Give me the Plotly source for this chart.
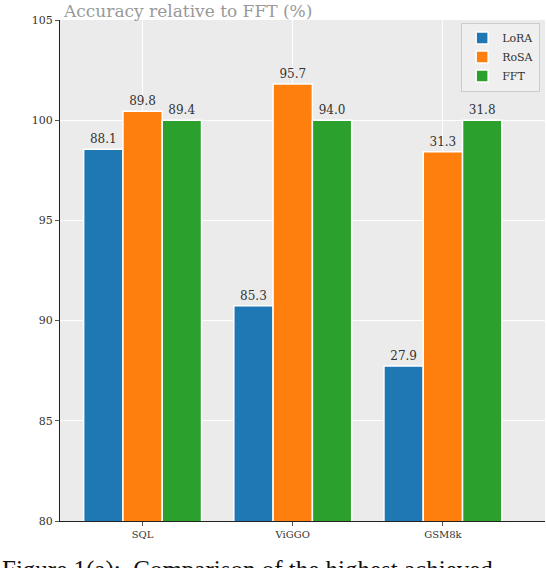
import plotly.graph_objects as go

# Data (absolute accuracies; bars show accuracy relative to FFT)
tasks = ["SQL", "ViGGO", "GSM8k"]
lora = [88.1, 85.3, 27.9]
rosa = [89.8, 95.7, 31.3]
fft = [89.4, 94.0, 31.8]

series = [("LoRA", lora, "#1f77b4"), ("RoSA", rosa, "#ff7f0e"), ("FFT", fft, "#2ca02c")]

serif = "DejaVu Serif"

fig = go.Figure()
for name, vals, color in series:
    rel = [v / f * 100 for v, f in zip(vals, fft)]
    fig.add_trace(go.Bar(
        x=tasks, y=rel, name=name,
        marker=dict(color=color, line=dict(color="white", width=1.5)),
        customdata=vals,
        texttemplate="%{customdata:.1f}", textposition="outside",
        textfont=dict(family=serif, size=12, color="#333333"),
        cliponaxis=False,
    ))

fig.update_layout(
    width=546, height=568,
    barmode="group", bargap=0.215, bargroupgap=0,
    paper_bgcolor="white", plot_bgcolor="#EBEBEB",
    margin=dict(l=60, r=1, t=20, b=47),
    font=dict(family=serif, size=11, color="#333333"),
    showlegend=True,
    legend=dict(
        x=0.99, xanchor="right", y=0.995, yanchor="top",
        bgcolor="rgba(240,240,240,0.9)", bordercolor="#cccccc", borderwidth=1,
        font=dict(family=serif, size=11, color="#333333"),
        itemwidth=30, tracegroupgap=0,
    ),
    xaxis=dict(
        range=[-0.55, 2.68], showgrid=True, gridcolor="white", gridwidth=1,
        showline=True, linecolor="#222222", linewidth=1.2,
        ticks="outside", ticklen=4, tickcolor="#555555",
        tickfont=dict(family=serif, size=10, color="#333333"),
    ),
    yaxis=dict(
        range=[80, 105], tickvals=[80, 85, 90, 95, 100, 105],
        showgrid=True, gridcolor="white", gridwidth=1, zeroline=False,
        showline=True, linecolor="#222222", linewidth=1.2,
        ticks="outside", ticklen=4, tickcolor="#555555",
        tickfont=dict(family=serif, size=11, color="#333333"),
    ),
    annotations=[
        dict(text="Accuracy relative to FFT (%)", xref="paper", yref="paper",
             x=0, y=1, xanchor="left", yanchor="bottom", yshift=-3, xshift=1,
             showarrow=False, font=dict(family=serif, size=17, color="#999999")),
        dict(text="Figure 1(a):  Comparison of the highest achieved", xref="paper", yref="paper",
             x=0, y=0, xanchor="left", yanchor="top", yshift=-33, xshift=-60,
             showarrow=False, font=dict(family="Liberation Serif", size=25, color="#111111")),
    ],
)

# drop the page's default body margin so the figure fills the window exactly
fig.write_html("out.html", config={"displayModeBar": False},
               post_script="document.body.style.margin='0';")
